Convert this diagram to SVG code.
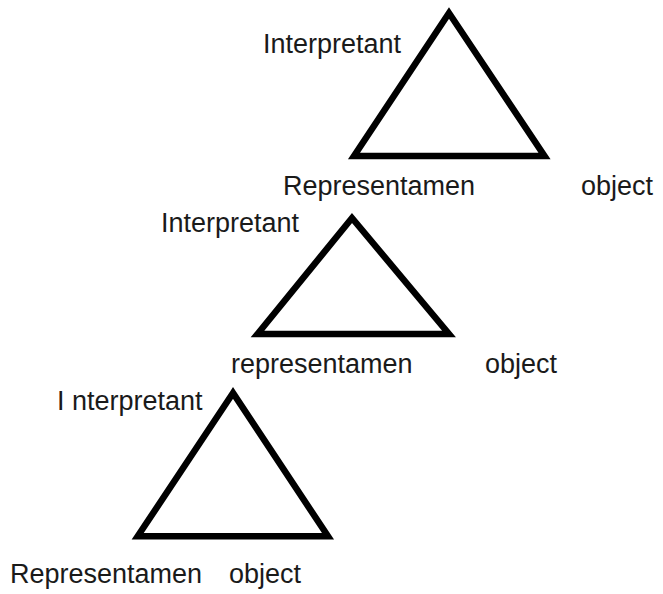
<svg xmlns="http://www.w3.org/2000/svg" width="663" height="594" viewBox="0 0 663 594">
<style>
.lbl{font-family:"Liberation Sans",Arial,sans-serif;font-size:27px;fill:#1a1a1a}
.tri{fill:none;stroke:#000;stroke-width:6.5;stroke-linejoin:miter;stroke-miterlimit:10}
</style>
<rect width="663" height="594" fill="#fff"/>
<g id="connectors">
<polygon class="tri" points="449,13 354,156 544.5,156"/>
<polygon class="tri" points="352,218 257.5,334 449,334"/>
<polygon class="tri" points="233,393 137.7,536.3 328,536.3"/>
</g>
<g id="interpretant-1"><text class="lbl" x="263" y="53">Interpretant</text></g>
<g id="representamen-1"><text class="lbl" x="283" y="195">Representamen</text></g>
<g id="object-1"><text class="lbl" x="581" y="195">object</text></g>
<g id="interpretant-2"><text class="lbl" x="161" y="232">Interpretant</text></g>
<g id="representamen-2"><text class="lbl" x="231" y="373">representamen</text></g>
<g id="object-2"><text class="lbl" x="485" y="373">object</text></g>
<g id="interpretant-3"><text class="lbl" x="57" y="410">I nterpretant</text></g>
<g id="representamen-3"><text class="lbl" x="10" y="583">Representamen</text></g>
<g id="object-3"><text class="lbl" x="229" y="583">object</text></g>
</svg>
